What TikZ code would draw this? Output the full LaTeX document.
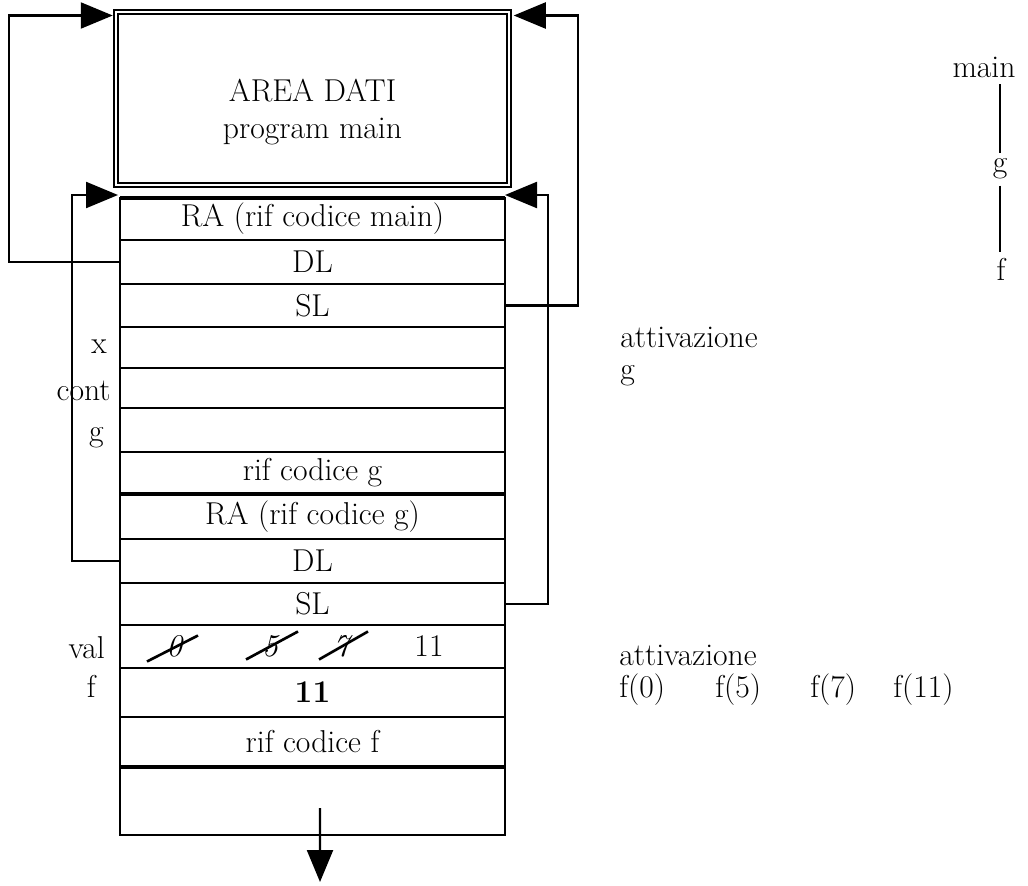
\documentclass[tikz,border=0pt]{standalone}
\usetikzlibrary{arrows.meta}
\begin{document}
\begin{tikzpicture}[
  font=\fontsize{18}{21}\selectfont,
  cella/.style={draw,line width=1.3pt,minimum width=7.700cm,inner sep=0pt,outer sep=0pt,anchor=north},
  link/.style={line width=1.3pt,-{Triangle[length=0.640cm,width=0.520cm]}},
  barra/.style={line width=1.5pt},
  etichetta/.style={anchor=base east,inner sep=0pt},
  testo/.style={anchor=base west,inner sep=0pt}
]
\useasboundingbox (0.000,0.000) rectangle (20.560,-17.700);
% area dati del main
\node[draw,double,double distance=1.2pt,line width=1.0pt,outer sep=0pt,minimum width=7.870cm,minimum height=3.460cm] (area) at (6.250,-1.970) {};
\node[align=center] (titolo) at (6.250,-2.240) {AREA DATI\\program main};
% pila dei record di attivazione
\node[cella,minimum height=0.840cm] (r1) at (6.250,-3.960) {RA (rif codice main)};
\node[cella,minimum height=0.880cm] (r2) at (6.250,-4.800) {DL};
\node[cella,minimum height=0.860cm] (r3) at (6.250,-5.680) {SL};
\node[cella,minimum height=0.820cm] (r4) at (6.250,-6.540) {};
\node[cella,minimum height=0.800cm] (r5) at (6.250,-7.360) {};
\node[cella,minimum height=0.880cm] (r6) at (6.250,-8.160) {};
\node[cella,minimum height=0.840cm] (r7) at (6.250,-9.040) {rif codice g};
\node[cella,minimum height=0.900cm] (r8) at (6.250,-9.880) {RA (rif codice g)};
\node[cella,minimum height=0.880cm] (r9) at (6.250,-10.780) {DL};
\node[cella,minimum height=0.840cm] (r10) at (6.250,-11.660) {SL};
\node[cella,minimum height=0.860cm] (r11) at (6.250,-12.500) {};
\node[cella,minimum height=0.980cm] (r12) at (6.250,-13.360) {\textbf{11}};
\node[cella,minimum height=1.000cm] (r13) at (6.250,-14.340) {rif codice f};
\node[cella,minimum height=1.360cm] (r14) at (6.250,-15.340) {};
\draw[line width=2.6pt] (r1.north west) -- (r1.north east);
\draw[line width=2.6pt] (r7.south west) -- (r7.south east);
\draw[line width=2.6pt] (r13.south west) -- (r13.south east);
% valori di val
\node (v0) at ([xshift=1.100cm]r11.west) {\textit{0}};
\node (v5) at ([xshift=3.020cm]r11.west) {\textit{5}};
\node (v7) at ([xshift=4.460cm]r11.west) {\textit{7}};
\node (v11) at ([xshift=6.180cm]r11.west) {11};
\draw[barra] ([xshift=-0.560cm,yshift=-0.300cm]v0.center) -- ([xshift=0.460cm,yshift=0.220cm]v0.center);
\draw[barra] ([xshift=-0.500cm,yshift=-0.260cm]v5.center) -- ([xshift=0.540cm,yshift=0.300cm]v5.center);
\draw[barra] ([xshift=-0.480cm,yshift=-0.260cm]v7.center) -- ([xshift=0.500cm,yshift=0.300cm]v7.center);
% nomi delle variabili
\node[etichetta] (lx) at (2.140,-7.060) {x};
\node[etichetta] (lcont) at (2.220,-8.000) {cont};
\node[etichetta] (lg) at (2.080,-8.820) {g};
\node[etichetta] (lval) at (2.100,-13.160) {val};
\node[etichetta] (lf) at (1.920,-13.940) {f};
% collegamenti DL e SL
\draw[link] (r2.west) -- ++(-2.220,0) |- ([xshift=-0.060cm,yshift=-0.070cm]area.north west);
\draw[link] (r9.west) -- ++(-0.960,0) |- ([xshift=-0.040cm,yshift=0.060cm]r1.north west);
\draw[link] (r3.east) -- ++(1.460,0) |- ([xshift=0.090cm,yshift=-0.070cm]area.north east);
\draw[link] (r10.east) -- ++(0.860,0) |- ([xshift=0.000cm,yshift=0.060cm]r1.north east);
\coordinate (giu) at (6.400,-17.640);
\draw[link] ([xshift=0.150cm,yshift=-0.140cm]r14.center) -- (giu);
% attivazioni
\node[testo] (attg) at (12.400,-6.940) {attivazione};
\node[testo] (nomeg) at (12.400,-7.580) {g};
\node[testo] (attf) at (12.380,-13.300) {attivazione};
\node[testo] (f0) at (12.380,-13.940) {f(0)};
\node[testo] (f5) at (14.300,-13.940) {f(5)};
\node[testo] (f7) at (16.200,-13.940) {f(7)};
\node[testo] (f11) at (17.860,-13.940) {f(11)};
% catena delle chiamate
\node[anchor=base] (tmain) at (19.680,-1.560) {main};
\node[anchor=base] (tg) at (20.000,-3.460) {g};
\node[anchor=base] (tf) at (20.020,-5.600) {f};
\draw[line width=1.3pt] (tmain.south -| tg.north) -- (tg.north);
\draw[line width=1.3pt] (tg.south) -- (tf.north -| tg.south);
\end{tikzpicture}
\end{document}
